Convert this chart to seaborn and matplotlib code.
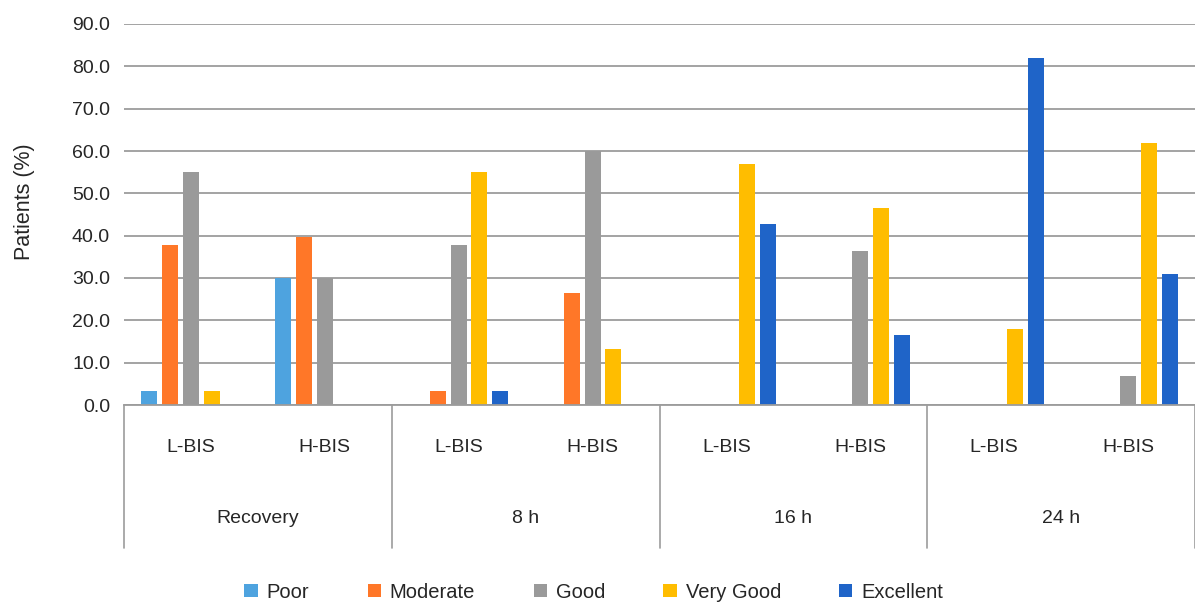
import pandas as pd
import matplotlib
matplotlib.use("Agg")
import matplotlib.pyplot as plt
import seaborn as sns

timepoints = ["Recovery", "8 h", "16 h", "24 h"]
groups = ["L-BIS", "H-BIS"]
categories = ["Poor", "Moderate", "Good", "Very Good", "Excellent"]

poor = [3.3, 30.0, 0, 0, 0, 0, 0, 0]
moderate = [37.8, 39.7, 3.3, 26.4, 0, 0, 0, 0]
good = [55.0, 30.0, 37.8, 60.0, 0, 36.4, 0, 6.8]
very_good = [3.3, 0, 55.0, 13.2, 56.9, 46.5, 18.0, 61.9]
excellent = [0, 0, 3.3, 0, 42.8, 16.5, 82.0, 30.9]

colors = ["#4EA3DF", "#FF7728", "#9A9A9A", "#FFBD00", "#1F64C8"]

sns.set_style("white")
plt.rcParams["font.family"] = ["Liberation Sans", "DejaVu Sans"]

slots = [f"{t}|{g}" for t in timepoints for g in groups]
rows = []
for cat, vals in zip(categories, [poor, moderate, good, very_good, excellent]):
    for s, v in zip(slots, vals):
        rows.append({"slot": s, "category": cat, "value": v})
df = pd.DataFrame(rows)

fig = plt.figure(figsize=(11.95, 6.04), dpi=100)
ax = fig.add_axes([124 / 1195, 1 - 405 / 604, (1195 - 124) / 1195, 381 / 604])

sns.barplot(
    data=df, x="slot", y="value", hue="category",
    order=slots, hue_order=categories, palette=colors,
    width=0.775, gap=0.23, saturation=1, ax=ax, linewidth=0
)

ax.set_ylim(0, 90)
ax.set_xlim(-0.5, 7.5)
ax.set_yticks(range(0, 91, 10))
ax.set_yticklabels([f"{v:.1f}" for v in range(0, 91, 10)], fontsize=14)
ax.yaxis.grid(True, color="#9C9C9C", linewidth=1.3)
ax.set_axisbelow(True)
ax.tick_params(axis="y", length=5, color="#9C9C9C", pad=5)
ax.tick_params(axis="x", length=0)
ax.set_xticks([])
ax.set_xlabel("")
ax.set_ylabel("Patients (%)", fontsize=15.5)
ax.yaxis.set_label_coords(-0.083, 0.533)
for side in ["top", "right", "left"]:
    ax.spines[side].set_visible(False)
ax.spines["bottom"].set_color("#9C9C9C")
ax.spines["bottom"].set_linewidth(1.3)

trans = ax.get_xaxis_transform()
for i, s in enumerate(slots):
    ax.text(i, -0.112, s.split("|")[1], transform=trans, ha="center", va="center", fontsize=14)
for j, t in enumerate(timepoints):
    ax.text(2 * j + 0.5, -0.297, t, transform=trans, ha="center", va="center", fontsize=14)
for x in [-0.5, 1.5, 3.5, 5.5, 7.5]:
    ax.plot([x, x], [0, -0.375], transform=trans, color="#9C9C9C", lw=1.2, clip_on=False)

handles, labels = ax.get_legend_handles_labels()
ax.legend_.remove()
fig.legend(
    handles, labels, loc="center", bbox_to_anchor=(0.497, 1 - 592 / 604),
    ncol=5, frameon=False, handlelength=0.65, handleheight=0.65,
    columnspacing=2.9, handletextpad=0.45, fontsize=14.5
)

fig.savefig("out.png", dpi=100)
